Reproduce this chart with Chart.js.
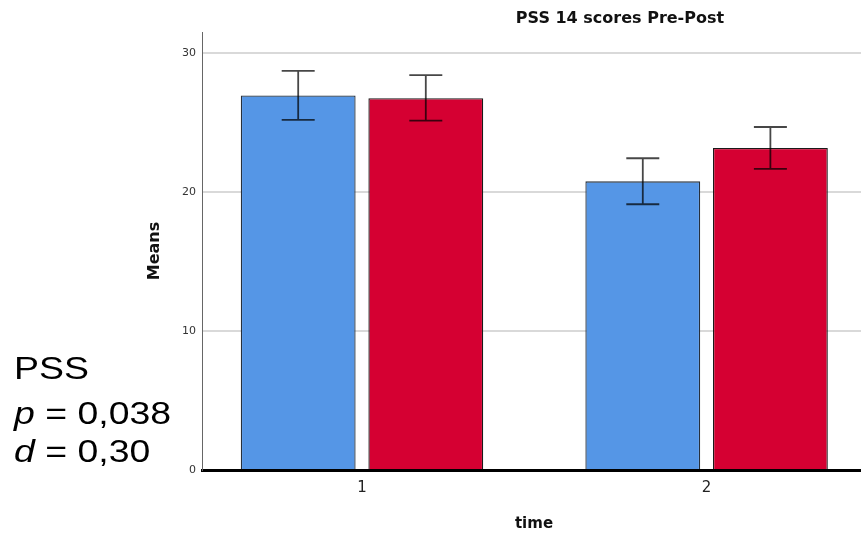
<!DOCTYPE html>
<html>
<head>
<meta charset="utf-8">
<script src="https://cdn.jsdelivr.net/npm/chart.js@4/dist/chart.umd.min.js"></script>
<style>
  html, body { margin: 0; padding: 0; background: #fff; overflow: hidden; }
  #wrap { position: relative; width: 861px; height: 535px; overflow: hidden; }
  #chart { position: absolute; left: 0; top: 0; }
  .title { position: absolute; left: 620px; top: 10px; transform: translateX(-50%);
           font: bold 16px "DejaVu Sans"; line-height: 16px; color: #111; white-space: nowrap; }
  .stat { position: absolute; left: 14px; font: 32px "Liberation Sans", Arial, sans-serif;
          line-height: 32px; color: #000; white-space: nowrap;
          transform: scaleX(1.17); transform-origin: left top; }
</style>
</head>
<body>
<div id="wrap">
  <canvas id="chart" width="870" height="535"></canvas>
  <div class="title">PSS 14 scores Pre-Post</div>
  <div class="stat" style="top:352px">PSS</div>
  <div class="stat" style="top:397px"><i>p</i> = 0,038</div>
  <div class="stat" style="top:435px"><i>d</i> = 0,30</div>
</div>
<script>
// time points on the x axis
const categories = ['1', '2'];
// group means (blue = first group, red = second group)
const blueMeans = [26.96, 20.78];
const redMeans = [26.76, 23.18];
// error bar ends
const blueLow = [25.2, 19.13];
const blueHigh = [28.73, 22.44];
const redLow = [25.15, 21.67];
const redHigh = [28.42, 24.69];
const yTicks = [0, 10, 20, 30];

const toPoints = vals => vals.map((v, i) => ({x: i + 1, y: v}));

const errorBars = {
  id: 'errorBars',
  afterDatasetsDraw(chart) {
    const {ctx} = chart;
    const yScale = chart.scales.y;
    ctx.save();
    ctx.strokeStyle = 'rgba(0,0,0,0.72)';
    ctx.lineWidth = 1.8;
    chart.data.datasets.forEach((ds, i) => {
      const meta = chart.getDatasetMeta(i);
      meta.data.forEach((bar, j) => {
        const top = yScale.getPixelForValue(ds.errHigh[j]);
        const bot = yScale.getPixelForValue(ds.errLow[j]);
        ctx.beginPath();
        ctx.moveTo(bar.x, top);
        ctx.lineTo(bar.x, bot);
        ctx.moveTo(bar.x - 16.5, top);
        ctx.lineTo(bar.x + 16.5, top);
        ctx.moveTo(bar.x - 16.5, bot);
        ctx.lineTo(bar.x + 16.5, bot);
        ctx.stroke();
      });
    });
    ctx.restore();
  }
};

new Chart(document.getElementById('chart'), {
  type: 'bar',
  data: {
    datasets: [
      {
        data: toPoints(blueMeans),
        errLow: blueLow,
        errHigh: blueHigh,
        backgroundColor: '#5596e6',
        borderColor: '#27303c',
        borderWidth: 1.3
      },
      {
        data: toPoints(redMeans),
        errLow: redLow,
        errHigh: redHigh,
        backgroundColor: '#d50032',
        borderColor: '#1a1a1a',
        borderWidth: 1.3
      }
    ]
  },
  options: {
    responsive: false,
    animation: false,
    categoryPercentage: 0.7406,
    barPercentage: 0.9,
    layout: {padding: {top: 32, left: 0, right: 4, bottom: 0}},
    plugins: {
      legend: {display: false},
      tooltip: {enabled: false}
    },
    scales: {
      x: {
        type: 'linear',
        min: 0.5357,
        max: 2.4626,
        offset: false,
        grid: {display: false, offset: false, drawTicks: false},
        border: {display: true, color: '#000', width: 3},
        afterBuildTicks: s => { s.ticks = categories.map((c, i) => ({value: i + 1})); },
        afterFit: s => { s.height = 65; },
        ticks: {
          padding: 9,
          color: '#222',
          font: {family: 'DejaVu Sans', size: 15},
          callback: v => categories[v - 1]
        },
        title: {
          display: true,
          text: 'time',
          color: '#111',
          padding: {top: 0, bottom: 2},
          font: {family: 'DejaVu Sans', size: 15, weight: 'bold'}
        }
      },
      y: {
        min: 0,
        max: 31.53,
        afterBuildTicks: s => { s.ticks = yTicks.map(v => ({value: v})); },
        afterFit: s => { s.width = 202; },
        grid: {
          drawTicks: false,
          lineWidth: 2,
          color: c => c.tick && c.tick.value === 0 ? 'rgba(0,0,0,0)' : '#d9d9d9'
        },
        border: {display: true, color: '#666', width: 1},
        ticks: {
          padding: 6,
          color: '#333',
          font: {family: 'DejaVu Sans', size: 11}
        },
        title: {
          display: true,
          text: 'Means',
          color: '#111',
          padding: {top: 145, bottom: 0},
          font: {family: 'DejaVu Sans', size: 16, weight: 'bold'}
        }
      }
    }
  },
  plugins: [errorBars]
});
</script>
</body>
</html>
